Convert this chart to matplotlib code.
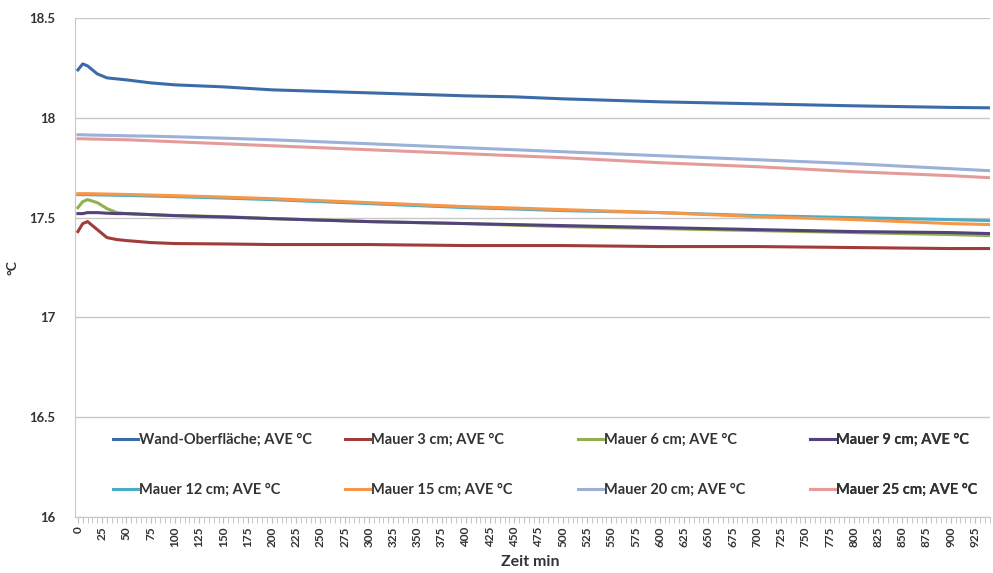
import numpy as np
import matplotlib
matplotlib.use('Agg')
from matplotlib import pyplot as plt

zeit = [0, 5, 10, 20, 30, 40, 50, 75, 100, 150, 200, 300, 400, 450, 500, 600, 700, 800, 900, 940]

wand = [18.24, 18.27, 18.26, 18.22, 18.20, 18.195, 18.19, 18.175, 18.165, 18.155,
        18.14, 18.125, 18.11, 18.105, 18.095, 18.08, 18.07, 18.06, 18.052, 18.05]
m3 = [17.43, 17.47, 17.48, 17.44, 17.40, 17.39, 17.385, 17.375, 17.37, 17.368,
      17.365, 17.365, 17.36, 17.36, 17.36, 17.355, 17.355, 17.35, 17.345, 17.345]
m6 = [17.55, 17.58, 17.59, 17.575, 17.545, 17.525, 17.52, 17.515, 17.51, 17.505,
      17.495, 17.48, 17.47, 17.462, 17.455, 17.445, 17.435, 17.425, 17.415, 17.41]
m9 = [17.52, 17.52, 17.525, 17.525, 17.522, 17.52, 17.52, 17.515, 17.51, 17.503,
      17.495, 17.48, 17.47, 17.465, 17.46, 17.45, 17.44, 17.43, 17.425, 17.42]
m12 = [17.615, 17.615, 17.615, 17.614, 17.613, 17.612, 17.611, 17.608, 17.605, 17.598,
       17.59, 17.57, 17.55, 17.543, 17.535, 17.525, 17.51, 17.5, 17.49, 17.485]
m15 = [17.62, 17.62, 17.62, 17.619, 17.618, 17.617, 17.616, 17.613, 17.61, 17.603,
       17.595, 17.575, 17.555, 17.548, 17.54, 17.525, 17.505, 17.49, 17.47, 17.465]
m20 = [17.915, 17.915, 17.914, 17.913, 17.912, 17.911, 17.91, 17.908, 17.905, 17.898,
       17.89, 17.87, 17.85, 17.84, 17.83, 17.81, 17.79, 17.77, 17.745, 17.735]
m25 = [17.895, 17.895, 17.894, 17.893, 17.892, 17.891, 17.89, 17.885, 17.88, 17.87,
       17.86, 17.84, 17.82, 17.81, 17.80, 17.775, 17.755, 17.73, 17.71, 17.70]

namen = ['Wand-Oberfläche; AVE °C', 'Mauer 3 cm; AVE °C', 'Mauer 6 cm; AVE °C', 'Mauer 9 cm; AVE °C',
         'Mauer 12 cm; AVE °C', 'Mauer 15 cm; AVE °C', 'Mauer 20 cm; AVE °C', 'Mauer 25 cm; AVE °C']
farben = ['#3C6CA8', '#A03C39', '#8FB150', '#54437A', '#4BACC6', '#F79646', '#9BB1D8', '#E39C9A']
reihen = [wand, m3, m6, m9, m12, m15, m20, m25]

plt.rcParams['font.family'] = ['Lato', 'DejaVu Sans']

fig = plt.figure(figsize=(9.93, 5.73), dpi=100)
ax = fig.add_axes([0.0755, 0.0977, 0.9215, 0.8709])

linien = []
for werte, name, farbe in zip(reihen, namen, farben):
    l, = ax.plot(zeit, werte, color=farbe, lw=2.2, label=name)
    linien.append(l)

ax.set_ylim(16, 18.5)
ax.set_xlim(-3, 940.5)
ax.set_yticks([16, 16.5, 17, 17.5, 18, 18.5])
ax.set_yticklabels(['16', '16.5', '17', '17.5', '18', '18.5'], fontsize=9.5, fontweight='bold', color='#333333')
ax.set_xticks(np.arange(0, 926, 25))
ax.set_xticklabels([str(v) for v in range(0, 926, 25)], rotation=90, fontsize=8.5,
                   fontweight='bold', color='#333333')
ax.set_xticks(np.arange(0, 941, 5), minor=True)
ax.tick_params(axis='x', which='both', direction='out', length=4, color='#BBBBBB', pad=3)
ax.tick_params(axis='y', length=0, pad=14)

ax.grid(axis='y', color='#C8C8C8', lw=1)
for s in ['top', 'right']:
    ax.spines[s].set_visible(False)
ax.spines['left'].set_color('#C8C8C8')
ax.spines['bottom'].set_color('#C8C8C8')

ax.set_xlabel('Zeit min', fontsize=11.5, fontweight='bold', color='#333333')
ax.xaxis.set_label_coords(0.497, -0.077)
ax.set_ylabel('°C', fontsize=10, fontweight='bold', color='#333333')
ax.yaxis.set_label_coords(-0.062, 0.5)

# Legende: 4 Spalten, zeilenweise wie in Excel
spalten_x = [0.0415, 0.295, 0.55, 0.803]
for j, xs in enumerate(spalten_x):
    leg = ax.legend(handles=[linien[j], linien[j + 4]], loc='upper left',
                    bbox_to_anchor=(xs, 0.168), frameon=False, handlelength=1.7,
                    handletextpad=0.1, labelspacing=2.45, borderaxespad=0, borderpad=0,
                    prop={'size': 10.5, 'weight': 'bold'})
    for t in leg.get_texts():
        t.set_color('#333333')
    ax.add_artist(leg)

fig.savefig('out.png', dpi=100)
